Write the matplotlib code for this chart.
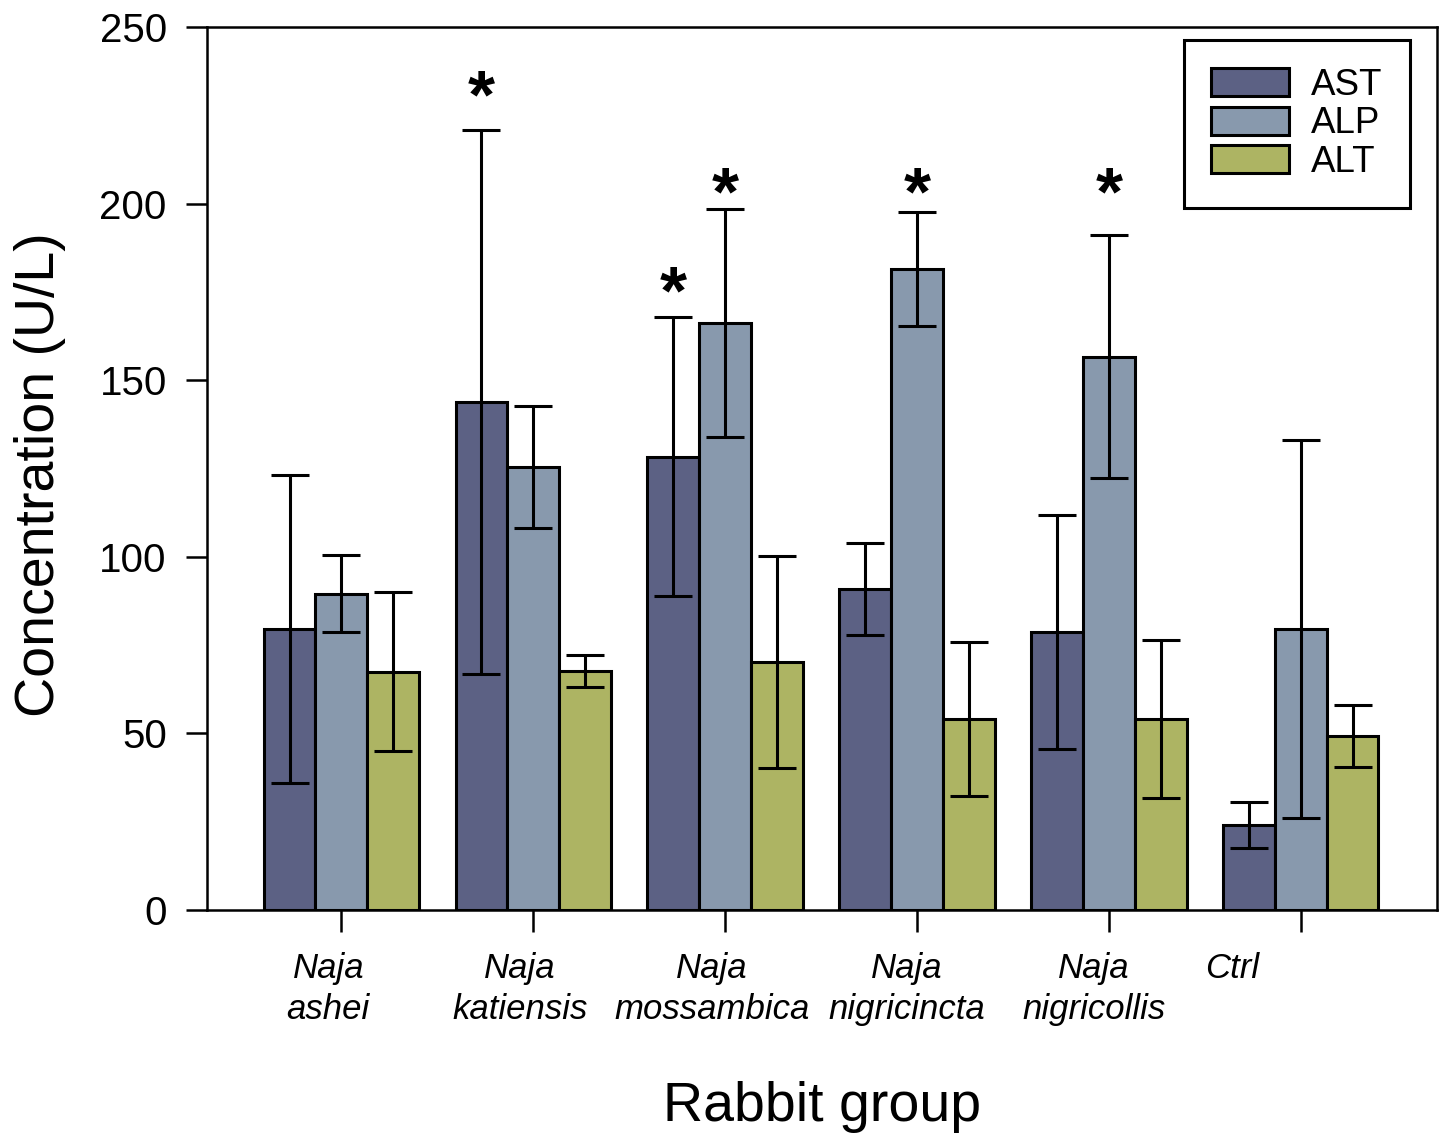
import numpy as np
import matplotlib.pyplot as plt

plt.rcParams['font.family'] = ['Liberation Sans', 'DejaVu Sans']

# Datos
grupos = ['Naja\nashei', 'Naja\nkatiensis', 'Naja\nmossambica',
          'Naja\nnigricincta', 'Naja\nnigricollis', 'Ctrl']
ast = [79.6, 143.8, 128.3, 90.9, 78.7, 24.1]
ast_err = [43.6, 77.0, 39.5, 13.0, 33.0, 6.6]
alp = [89.5, 125.4, 166.2, 181.5, 156.6, 79.6]
alp_err = [10.9, 17.2, 32.3, 16.2, 34.4, 53.5]
alt = [67.4, 67.7, 70.2, 54.1, 54.1, 49.3]
alt_err = [22.5, 4.6, 30.0, 21.8, 22.4, 8.8]

# asteriscos: (grupo, serie, altura)
asteriscos = [(1, 0, 229.5), (2, 0, 174.0), (2, 1, 202.0),
              (3, 1, 202.0), (4, 1, 202.0)]

colores = ['#5c6184', '#8899ad', '#adb463']
series = ['AST', 'ALP', 'ALT']

x = np.arange(len(grupos))
w = 0.27
offs = [-w, 0, w]

fig = plt.figure(figsize=(14.43, 11.37), dpi=100)
ax = fig.add_axes([0.1435, 0.1997, 0.8523, 0.7766])

for vals, errs, c, o, nom in zip([ast, alp, alt], [ast_err, alp_err, alt_err],
                                 colores, offs, series):
    ax.bar(x + o, vals, w, color=c, edgecolor='black', linewidth=2.2,
           label=nom, zorder=2)
    ax.errorbar(x + o, vals, yerr=errs, fmt='none', ecolor='black',
                elinewidth=2.2, capsize=14, capthick=2.2, zorder=3)

for g, s, h in asteriscos:
    ax.text(x[g] + offs[s], h, '*', ha='center', va='center',
            fontsize=50, fontweight='bold', color='black')

ax.set_xlim(-0.7, 5.71)
ax.set_ylim(0, 250)
ax.set_yticks([0, 50, 100, 150, 200, 250])
ax.tick_params(axis='y', labelsize=29, length=15, width=1.8, pad=14)
ax.tick_params(axis='x', length=16, width=1.8, labelbottom=False)
ax.set_xticks(x)
for sp in ax.spines.values():
    sp.set_linewidth(1.8)

# etiquetas de grupo en cursiva, algo desplazadas a la izquierda
desp = [-0.068, -0.068, -0.068, -0.055, -0.078, -0.36]
for xi, lab, d in zip(x, grupos, desp):
    ax.text(xi + d, -12.0, lab, ha='center', va='top', fontsize=25,
            style='italic', linespacing=1.3, multialignment='center')

ax.set_xlabel('Rabbit group', fontsize=40, va='center')
ax.xaxis.set_label_coords(0.5, -0.223)
ax.set_ylabel('Concentration (U/L)', fontsize=40, va='center')
ax.yaxis.set_label_coords(-0.136, 0.493)

leg = ax.legend(loc='upper right', bbox_to_anchor=(0.978, 0.985), fontsize=26.5,
                fancybox=False, edgecolor='black', framealpha=1,
                handlelength=2.1, handleheight=0.8, labelspacing=0.1,
                borderpad=0.75, handletextpad=0.6, borderaxespad=0)
leg.get_frame().set_linewidth(2.2)

fig.savefig('out.png', dpi=100)
